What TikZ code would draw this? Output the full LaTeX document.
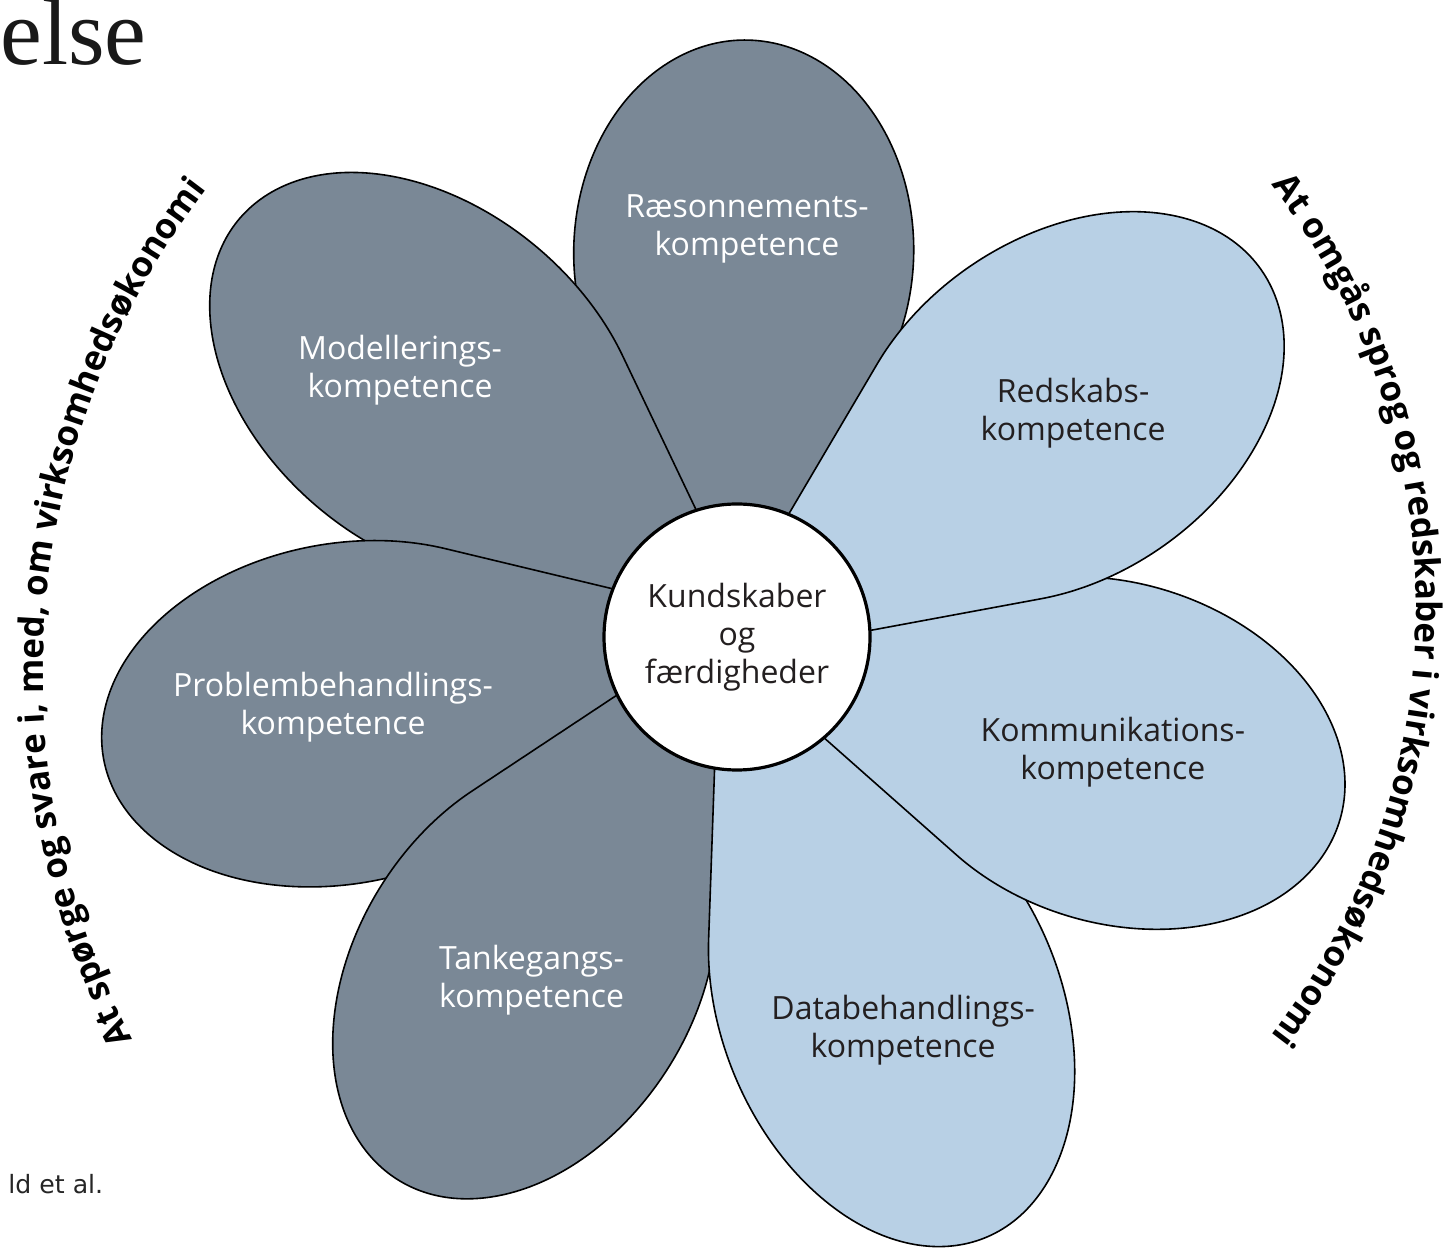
\documentclass[tikz,border=0pt]{standalone}
\usepackage{fontspec}
\setmainfont{Open Sans}
\newfontfamily\titlefont{Liberation Serif}
\newfontfamily\notefont{DejaVu Sans}
\usetikzlibrary{calc,decorations.text}
\definecolor{petalgray}{RGB}{122,136,150}
\definecolor{petalblue}{RGB}{184,208,229}
\definecolor{inkdark}{RGB}{35,31,32}
\newcommand{\petalfont}{\fontsize{16}{19}\selectfont}
\newcommand{\curvefont}{\bfseries\fontsize{17.5}{20}\selectfont}
\tikzset{
	petal/.style={draw=black, line width=0.8pt, fill=#1},
	petal text/.style={font=\petalfont, align=center, text=#1, inner sep=0pt},
	core/.style={circle, draw=black, line width=1.6pt, fill=white,
		minimum size=133pt, inner sep=0pt, font=\petalfont, align=center, text=inkdark},
	rim text/.style={decorate, decoration={text along path, text align=center,
		text={|\curvefont|#1}}}
}

\begin{document}
\begin{tikzpicture}[x=0.5pt,y=0.5pt]
  \useasboundingbox (0,0) rectangle (1445,1254);
  \coordinate (mid) at (737,617);
  % petals: axis angle / length from the middle / fill, each one covers the one before
  \foreach \ang/\len/\col in {89/597/petalgray, 140/650/petalgray, 191/645/petalgray,
      238/640/petalgray, 292.5/650/petalblue, 343/630/petalblue, 35/640/petalblue} {
    \pgfmathsetmacro{\pl}{(\len+43)/100}
    \pgfmathsetmacro{\pk}{1.7*1.7/(tan(24.5)*tan(24.5))}
    \pgfmathsetmacro{\pD}{50*(\pl+\pk/\pl)}
    \pgfmathsetmacro{\pA}{50*(\pl-\pk/\pl)}
    \pgfmathsetmacro{\pPhi}{acos(-\pA/\pD)}
    \pgfmathsetmacro{\pTx}{\pD-\pA*(\pA/\pD)}
    \pgfmathsetmacro{\pTy}{170*sin(\pPhi)}
    \draw[petal=\col, shift={(mid)}, rotate=\ang, shift={(-43,0)}] (0,0) -- (\pTx,\pTy)
      arc[start angle=\pPhi, end angle=-\pPhi, x radius=\pA, y radius=170] -- cycle;
  }
  \node[core] (kf) at (mid) {Kundskaber\\og\\færdigheder};
  % labels
  \node[petal text=white] (raes) at ($(mid)+(88.6:408)$) {Ræsonnements-\\kompetence};
  \node[petal text=white] (model) at ($(mid)+(141.6:430)$) {Modellerings-\\kompetence};
  \node[petal text=white] (problem) at ($(mid)+(189.8:410)$) {Problembehandlings-\\kompetence};
  \node[petal text=white] (tanke) at ($(mid)+(239.1:400)$) {Tankegangs-\\kompetence};
  \node[petal text=inkdark] (data) at ($(mid)+(292.9:427)$) {Databehandlings-\\kompetence};
  \node[petal text=inkdark] (komm) at ($(mid)+(343:393)$) {Kommunikations-\\kompetence};
  \node[petal text=inkdark] (redsk) at ($(mid)+(33.7:404)$) {Redskabs-\\kompetence};
  % curved texts
  \coordinate (lhub) at (839,581);
  \coordinate (rhub) at (719,644);
  \path[rim text={At spørge og svare i{,} med{,} om virksomhedsøkonomi}]
    ($(lhub)+(215:796)$) arc[start angle=215, end angle=135, radius=796];
  \path[rim text={At omgås sprog og redskaber i virksomhedsøkonomi}]
    ($(rhub)+(40:697)$) arc[start angle=40, end angle=-40, radius=697];
  % cropped slide texts
  \node[anchor=base west, inner sep=0pt, font=\titlefont\fontsize{47}{50}\selectfont, text=black!90]
    (title) at (0,1189) {else};
  \node[anchor=base west, inner sep=0pt, font=\notefont\fontsize{12.6}{15}\selectfont, text=black!85]
    (cite) at (8,61) {ld et al.};
\end{tikzpicture}
\end{document}
